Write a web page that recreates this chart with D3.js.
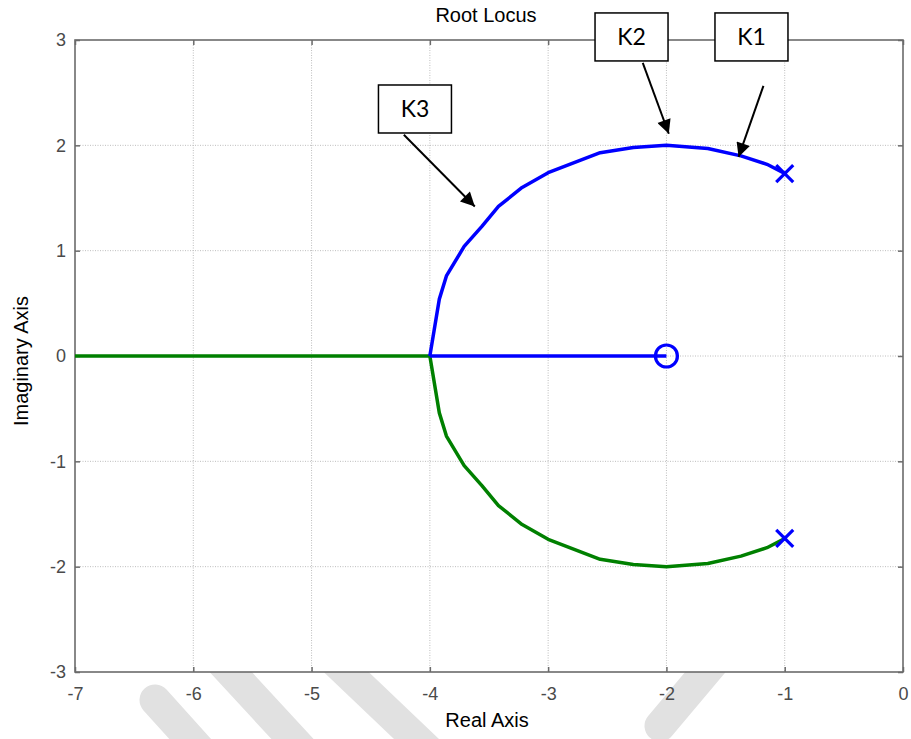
<!DOCTYPE html>
<html>
<head>
<meta charset="utf-8">
<script src="https://cdn.jsdelivr.net/npm/d3@7"></script>
<style>
  html, body { margin: 0; padding: 0; background: #fff; }
  svg { display: block; }
</style>
</head>
<body>
<svg id="chart" width="911" height="739"></svg>
<script>
// Root locus of G(s) = K(s+2) / (s^2 + 2s + 4)
const title = "Root Locus";
const xLabel = "Real Axis";
const yLabel = "Imaginary Axis";
const xTicks = [-7, -6, -5, -4, -3, -2, -1, 0];
const yTicks = [-3, -2, -1, 0, 1, 2, 3];

// upper complex branch (blue): pole at -1+j1.732 to breakaway at -4
const upperRe = [-1, -1.15, -1.37, -1.65, -2, -2.28, -2.56, -3, -3.22, -3.42, -3.56, -3.71, -3.86, -3.92, -4];
const upperIm = [1.732, 1.82, 1.9, 1.97, 2.0, 1.98, 1.93, 1.74, 1.6, 1.42, 1.23, 1.04, 0.76, 0.54, 0];
// blue branch on the real axis: breakaway -> zero at -2
const blueAxisRe = [-4, -3.88, -2];
const blueAxisIm = [0, 0, 0];
// lower complex branch (green): pole at -1-j1.732 to breakaway, then to -inf
const lowerRe = [-1, -1.15, -1.37, -1.65, -2, -2.28, -2.56, -3, -3.22, -3.42, -3.56, -3.71, -3.86, -3.92, -4, -7];
const lowerIm = [-1.732, -1.82, -1.9, -1.97, -2.0, -1.98, -1.93, -1.74, -1.6, -1.42, -1.23, -1.04, -0.76, -0.54, 0, 0];

const polesRe = [-1, -1];
const polesIm = [1.732, -1.732];
const zerosRe = [-2];
const zerosIm = [0];

// gain annotations: label box centre and arrow (from -> tip), in axis units
const noteLabels = ["K1", "K2", "K3"];
const noteBoxRe = [-1.281, -2.295, -4.126];
const noteBoxIm = [3.029, 3.029, 2.345];
const noteFromRe = [-1.18, -2.20, -4.22];
const noteFromIm = [2.565, 2.783, 2.100];
const noteTipRe = [-1.39, -1.98, -3.62];
const noteTipIm = [1.89, 2.11, 1.42];

const svg = d3.select("#chart");
const W = 911, H = 739;
const m = { left: 75, right: 8, top: 40, bottom: 67 };
const x = d3.scaleLinear().domain([-7, 0]).range([m.left, W - m.right]);
const y = d3.scaleLinear().domain([-3, 3]).range([H - m.bottom, m.top]);
const x0 = x.range()[0], x1 = x.range()[1], y0 = y.range()[1], y1 = y.range()[0];

// faint diagonal watermark stripes behind the figure
const stripes = svg.append("g").attr("stroke", "#e1e1e1").attr("stroke-linecap", "round")
  .attr("stroke-width", 31).attr("fill", "none");
[[155, 700, 265, 822], [190, 628, 335, 785], [300, 628, 470, 790], [745, 625, 660, 726]]
  .forEach(s => stripes.append("line").attr("x1", s[0]).attr("y1", s[1]).attr("x2", s[2]).attr("y2", s[3]));

// plot background
svg.append("rect").attr("x", x0).attr("y", y0).attr("width", x1 - x0).attr("height", y1 - y0)
  .attr("fill", "#fff");

// dotted grid
const grid = svg.append("g").attr("stroke", "#bdbdbd").attr("stroke-width", 1)
  .attr("stroke-dasharray", "1,1.5");
grid.selectAll(".gx").data(xTicks.slice(1, -1)).join("line")
  .attr("x1", d => x(d)).attr("x2", d => x(d)).attr("y1", y0).attr("y2", y1);
grid.selectAll(".gy").data(yTicks.slice(1, -1)).join("line")
  .attr("y1", d => y(d)).attr("y2", d => y(d)).attr("x1", x0).attr("x2", x1);

// axes (ticks pointing inward on all four sides)
const axisColor = "#6b6b6b";
const fmt = d => String(d);
function styleAxis(g) {
  g.select(".domain").remove();
  g.selectAll(".tick line").attr("stroke", axisColor).attr("stroke-width", 1.5);
  g.selectAll(".tick text").attr("fill", "#4a4a4a")
    .style("font-family", "Liberation Sans, Arial, sans-serif").style("font-size", "18px");
}
svg.append("g").attr("transform", `translate(0,${y1})`)
  .call(d3.axisBottom(x).tickValues(xTicks).tickSize(-5).tickPadding(15).tickFormat(fmt))
  .call(styleAxis);
svg.append("g").attr("transform", `translate(0,${y0})`)
  .call(d3.axisTop(x).tickValues(xTicks).tickSize(-5).tickFormat(""))
  .call(styleAxis);
svg.append("g").attr("transform", `translate(${x0},0)`)
  .call(d3.axisLeft(y).tickValues(yTicks).tickSize(-5).tickPadding(9).tickFormat(fmt))
  .call(styleAxis);
svg.append("g").attr("transform", `translate(${x1},0)`)
  .call(d3.axisRight(y).tickValues(yTicks).tickSize(-5).tickFormat(""))
  .call(styleAxis);
svg.append("rect").attr("x", x0).attr("y", y0).attr("width", x1 - x0).attr("height", y1 - y0)
  .attr("fill", "none").attr("stroke", axisColor).attr("stroke-width", 1.6);

// locus branches
const line = d3.line().x(d => x(d[0])).y(d => y(d[1]));
const zip = (a, b) => a.map((v, i) => [v, b[i]]);
const branches = [
  { pts: zip(lowerRe, lowerIm), color: "#008000" },
  { pts: zip(upperRe, upperIm), color: "#0000ff" },
  { pts: zip(blueAxisRe, blueAxisIm), color: "#0000ff" }
];
svg.append("g").selectAll("path").data(branches).join("path")
  .attr("d", d => line(d.pts)).attr("fill", "none")
  .attr("stroke", d => d.color).attr("stroke-width", 3.5).attr("stroke-linejoin", "round");

// poles (x) and zero (o)
const pz = svg.append("g").attr("stroke", "#0000ff").attr("stroke-width", 3.2).attr("fill", "none");
const s = 8.5;
zip(polesRe, polesIm).forEach(p => {
  const cx = x(p[0]), cy = y(p[1]);
  pz.append("path").attr("d", `M${cx - s},${cy - s}L${cx + s},${cy + s}M${cx - s},${cy + s}L${cx + s},${cy - s}`);
});
zip(zerosRe, zerosIm).forEach(p => {
  pz.append("circle").attr("cx", x(p[0])).attr("cy", y(p[1])).attr("r", 11);
});

// annotations
const defs = svg.append("defs");
defs.append("marker").attr("id", "head").attr("viewBox", "0 0 10 10")
  .attr("refX", 10).attr("refY", 5).attr("markerWidth", 8).attr("markerHeight", 7)
  .attr("markerUnits", "strokeWidth").attr("orient", "auto")
  .append("path").attr("d", "M0,0L10,5L0,10Z").attr("fill", "#000");

const notes = svg.append("g");
noteLabels.forEach((lab, i) => {
  notes.append("line")
    .attr("x1", x(noteFromRe[i])).attr("y1", y(noteFromIm[i]))
    .attr("x2", x(noteTipRe[i])).attr("y2", y(noteTipIm[i]))
    .attr("stroke", "#000").attr("stroke-width", 2).attr("marker-end", "url(#head)");
  const bw = 73, bh = 48;
  const cx = x(noteBoxRe[i]), cy = y(noteBoxIm[i]);
  notes.append("rect").attr("x", cx - bw / 2).attr("y", cy - bh / 2).attr("width", bw).attr("height", bh)
    .attr("fill", "#fff").attr("stroke", "#000").attr("stroke-width", 1.5);
  notes.append("text").attr("x", cx).attr("y", cy + 8).attr("text-anchor", "middle")
    .style("font-family", "Lato, 'Open Sans', sans-serif").style("font-size", "23px")
    .attr("fill", "#000").text(lab);
});

// titles
const txt = (t, px) => svg.append("text").text(t)
  .style("font-family", "Liberation Sans, Arial, sans-serif").style("font-size", px + "px").attr("fill", "#000");
txt(title, 20).attr("x", 486).attr("y", 22).attr("text-anchor", "middle");
txt(xLabel, 20).attr("x", 487).attr("y", 727).attr("text-anchor", "middle");
txt(yLabel, 20).attr("text-anchor", "middle").attr("transform", "translate(28,361) rotate(-90)");
</script>
</body>
</html>
